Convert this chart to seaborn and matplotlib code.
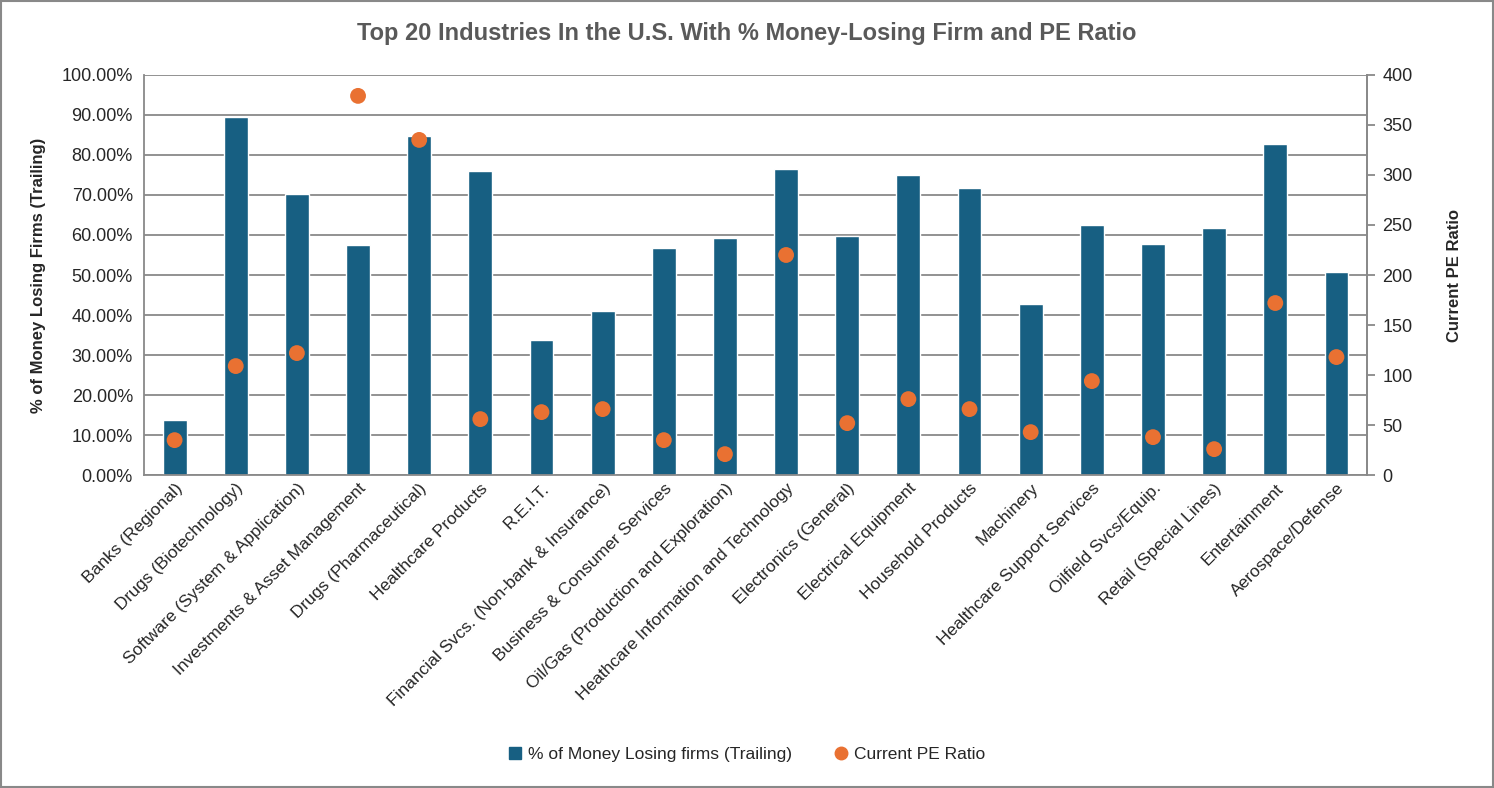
import matplotlib.pyplot as plt
import matplotlib.patches as mpatches
from matplotlib.lines import Line2D
from matplotlib.ticker import PercentFormatter
import seaborn as sns
import pandas as pd

industries = [
    "Banks (Regional)", "Drugs (Biotechnology)", "Software (System & Application)",
    "Investments & Asset Management", "Drugs (Pharmaceutical)", "Healthcare Products",
    "R.E.I.T.", "Financial Svcs. (Non-bank & Insurance)", "Business & Consumer Services",
    "Oil/Gas (Production and Exploration)", "Heathcare Information and Technology",
    "Electronics (General)", "Electrical Equipment", "Household Products", "Machinery",
    "Healthcare Support Services", "Oilfield Svcs/Equip.", "Retail (Special Lines)",
    "Entertainment", "Aerospace/Defense",
]
pct_losing = [13.9, 89.4, 70.2, 57.4, 84.7, 75.9, 33.7, 40.9, 56.7, 59.2,
              76.4, 59.7, 74.9, 71.7, 42.7, 62.4, 57.7, 61.7, 82.7, 50.7]
pe_ratio = [35, 109, 122, 379, 335, 56, 63, 66, 35, 21,
            220, 52, 76, 66, 43, 94, 38, 26, 172, 118]

df = pd.DataFrame({"industria": industries, "pct": pct_losing, "pe": pe_ratio})

cor_barra = "#175F82"
cor_ponto = "#E97132"
cinza = "#898989"

sns.set_style("white")
plt.rcParams["font.family"] = ["Liberation Sans", "DejaVu Sans"]

fig = plt.figure(figsize=(14.94, 7.88), dpi=100)
ax = fig.add_axes([0.0964, 0.397, 0.8186, 0.508])

sns.barplot(data=df, x="industria", y="pct", color=cor_barra, width=0.39,
            saturation=1, ax=ax, zorder=2)
ax.set_ylim(0, 100)
ax.set_yticks(range(0, 101, 10))
ax.yaxis.set_major_formatter(PercentFormatter(decimals=2))
ax.grid(axis="y", color=cinza, linewidth=1.3, zorder=0)
ax.set_axisbelow(True)
ax.set_xlim(-0.5, len(industries) - 0.5)
ax.tick_params(axis="y", length=0, labelsize=13, pad=8)
ax.tick_params(axis="x", length=0, labelsize=12.5, pad=4)
plt.setp(ax.get_xticklabels(), rotation=45, ha="right", rotation_mode="anchor")
ax.set_xlabel("")
ax.set_ylabel("% of Money Losing Firms (Trailing)", fontsize=12,
              fontweight="bold", labelpad=11)
for lado in ["left", "bottom", "right"]:
    ax.spines[lado].set_color(cinza)
    ax.spines[lado].set_linewidth(1.3)
ax.spines["top"].set_visible(False)

ax2 = ax.twinx()
sns.scatterplot(data=df, x="industria", y="pe", color=cor_ponto, s=130,
                edgecolor="none", ax=ax2, zorder=3)
ax2.set_ylim(0, 400)
ax2.set_yticks(range(0, 401, 50))
ax2.tick_params(axis="y", length=6, width=1.3, color=cinza, labelsize=13, pad=5)
ax2.set_ylabel("Current PE Ratio", fontsize=12, fontweight="bold", labelpad=25)
for lado in ["left", "bottom", "top"]:
    ax2.spines[lado].set_visible(False)
ax2.spines["right"].set_color(cinza)
ax2.spines["right"].set_linewidth(1.3)
ax2.set_xlim(-0.5, len(industries) - 0.5)

fig.suptitle("Top 20 Industries In the U.S. With % Money-Losing Firm and PE Ratio",
             y=0.972, fontsize=17, fontweight="bold", color="#595959")

handles = [
    mpatches.Patch(color=cor_barra, label="% of Money Losing firms (Trailing)"),
    Line2D([], [], marker="o", linestyle="none", color=cor_ponto, markersize=9,
           label="Current PE Ratio"),
]
fig.legend(handles=handles, loc="center", bbox_to_anchor=(0.5, 0.042), ncol=2,
           frameon=False, fontsize=12.5, handlelength=0.7, handleheight=0.7,
           columnspacing=2.5, handletextpad=0.4)

fig.add_artist(mpatches.Rectangle((0.001, 0.001), 0.998, 0.998, transform=fig.transFigure,
                                  fill=False, edgecolor=cinza, linewidth=1.5))

fig.savefig("out.png", dpi=100)
